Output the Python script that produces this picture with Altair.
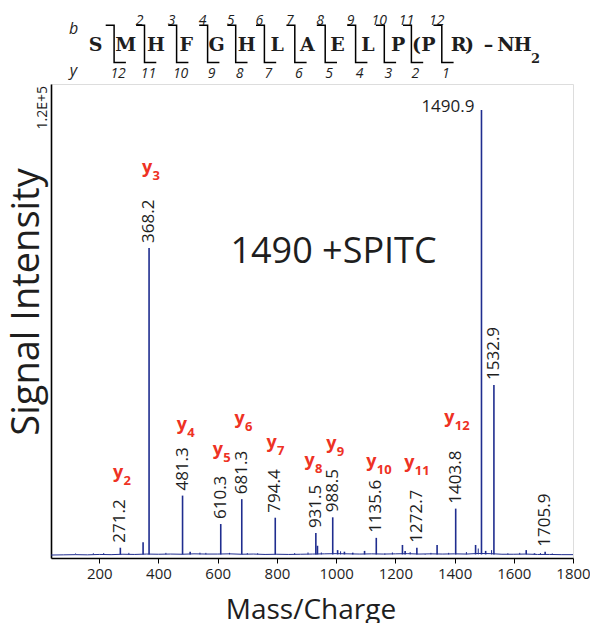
import altair as alt
import pandas as pd

# ---------------- values ----------------
# main spectral peaks (m/z, signal intensity)
peak_mz = [271.2, 348.0, 368.2, 481.3, 507.0, 610.3, 681.3, 794.4, 931.5, 937.0,
           988.5, 1005.0, 1028.0, 1056.0, 1096.0, 1135.6, 1164.0, 1224.0, 1233.0,
           1272.7, 1301.0, 1341.0, 1403.8, 1471.0, 1490.9, 1505.0, 1532.9, 1642.0,
           1670.0, 1705.9]
peak_int = [2600, 4000, 78500, 15800, 1600, 8600, 14900, 10200, 6300, 3100,
            10300, 2000, 1600, 1350, 1800, 5100, 1100, 3300, 1800,
            2600, 1000, 3300, 12500, 3300, 113400, 1800, 43800, 2000,
            1200, 1600]

# small noise spikes
grass_mz = [120, 180, 215, 300, 425, 540, 560, 640, 700, 735, 860, 905, 950, 1015,
            1190, 1250, 1320, 1380, 1440, 1480, 1525, 1580, 1620, 1690, 1730]
grass_int = [1150, 1200, 1250, 1300, 1300, 1350, 1300, 1300, 1250, 1200, 1250, 1400,
             1400, 1700, 1400, 1500, 1300, 1300, 1500, 2400, 2000, 1200, 1300, 1250, 1150]

# noise floor
base_mz = [37, 80, 120, 160, 200, 240, 280, 320, 360, 400, 440, 480, 520, 560, 600,
           640, 680, 720, 760, 800, 840, 880, 920, 960, 1000, 1040, 1080, 1120,
           1160, 1200, 1240, 1280, 1320, 1360, 1400, 1440, 1480, 1520, 1560, 1600,
           1640, 1680, 1720, 1760, 1800]
base_int = [750, 800, 850, 800, 900, 850, 950, 900, 1000, 950, 1000, 950, 1050, 1000,
            1000, 1050, 950, 1000, 900, 950, 900, 950, 1000, 1050, 1100, 1050, 1000,
            1050, 1000, 1050, 1100, 1000, 1050, 1000, 1050, 1000, 1150, 1100, 950,
            950, 1000, 900, 900, 850, 850]
BASELINE = 900

# numeric peak labels
label_mz = [271.2, 368.2, 481.3, 610.3, 681.3, 794.4, 931.5, 988.5, 1135.6,
            1272.7, 1403.8, 1532.9, 1705.9]
top_label_mz = 1490.9

# y-ion annotations (ion number, anchor m/z, anchor intensity)
ion_num = ["2", "3", "4", "5", "6", "7", "8", "9", "10", "11", "12"]
ion_mz = [246, 344, 462, 583, 657, 765, 893, 967, 1102, 1230, 1365]
ion_int = [20250, 97470, 32400, 26080, 33920, 27850, 23290, 27590, 23040, 22780, 34180]

# x-axis tick values
x_ticks = [200, 400, 600, 800, 1000, 1200, 1400, 1600, 1800]

# peptide sequence header
residues = ["S", "M", "H", "F", "G", "H", "L", "A", "E", "L", "P", "P", "R"]
b_numbers = ["2", "3", "4", "5", "6", "7", "8", "9", "10", "11", "12"]
y_numbers = ["12", "11", "10", "9", "8", "7", "6", "5", "4", "3", "2", "1"]

# ---------------- layout ----------------
PAD_L, PAD_T, PAD_R, PAD_B = 51, 84, 17, 65
W, H = 522, 474
BLUE = "#1f2d8f"
RED = "#ee3224"
INK = "#1e1e1e"
FONT = "Open Sans"
SEQ_FONT = "DejaVu Serif"

lookup = dict(zip(peak_mz, peak_int))

peaks = pd.DataFrame({"mz": peak_mz, "intensity": peak_int, "base": BASELINE})
grass = pd.DataFrame({"mz": grass_mz, "intensity": grass_int, "base": BASELINE})
base = pd.DataFrame({"mz": base_mz, "intensity": base_int})
labels = pd.DataFrame({"mz": label_mz, "intensity": [lookup[m] for m in label_mz],
                       "text": [f"{m:.1f}" for m in label_mz]})
top_label = pd.DataFrame({"mz": [top_label_mz], "intensity": [lookup[top_label_mz]],
                          "text": [f"{top_label_mz:.1f}"]})
ions = pd.DataFrame({"mz": ion_mz, "intensity": ion_int, "num": ion_num, "y": "y"})

x_enc = alt.X("mz:Q", scale=alt.Scale(domain=[37, 1800], nice=False, zero=False),
              axis=alt.Axis(values=x_ticks, format="d",
                            title=None, grid=False, labelFlush=False,
                            labelFont=FONT, labelFontSize=15, labelColor=INK,
                            labelPadding=3, tickSize=5, tickColor="black", tickWidth=1,
                            domainColor="black", domainWidth=1.6))
y_enc = alt.Y("intensity:Q", scale=alt.Scale(domain=[0, 120000], nice=False),
              axis=alt.Axis(title=None, grid=False, labels=False, ticks=False,
                            domainColor="black", domainWidth=1.6))

base_line = alt.Chart(base).mark_line(color=BLUE, strokeWidth=1).encode(x=x_enc, y=y_enc)
grass_rules = alt.Chart(grass).mark_rule(color=BLUE, strokeWidth=1).encode(
    x=x_enc, y=y_enc, y2="base:Q")
peak_rules = alt.Chart(peaks).mark_rule(color=BLUE, strokeWidth=1.6).encode(
    x=x_enc, y=y_enc, y2="base:Q")

peak_text = alt.Chart(labels).mark_text(
    angle=270, align="left", baseline="middle", dx=5, font=FONT, fontSize=17, color=INK
).encode(x=x_enc, y=y_enc, text="text:N")
top_text = alt.Chart(top_label).mark_text(
    align="right", baseline="alphabetic", dx=-7, dy=2, font=FONT, fontSize=17, color=INK
).encode(x=x_enc, y=y_enc, text="text:N")

ion_y = alt.Chart(ions).mark_text(
    align="left", baseline="alphabetic", font=FONT, fontSize=18, fontWeight="bold", color=RED
).encode(x=x_enc, y=y_enc, text="y:N")
ion_sub = alt.Chart(ions).mark_text(
    align="left", baseline="alphabetic", dx=10.5, dy=7, font=FONT, fontSize=13,
    fontWeight="bold", color=RED
).encode(x=x_enc, y=y_enc, text="num:N")

# ---------- annotation texts in pixel space ----------
def px(xa):
    return xa - PAD_L

def py(ya):
    return ya - PAD_T

title_in = alt.Chart(pd.DataFrame({"t": ["1490 +SPITC"]})).mark_text(
    align="center", baseline="alphabetic", font=FONT, fontSize=36, color=INK
).encode(x=alt.value(px(333.5)), y=alt.value(py(263)), text="t:N")

ytitle = alt.Chart(pd.DataFrame({"t": ["Signal Intensity"]})).mark_text(
    align="center", baseline="middle", angle=270, font=FONT, fontSize=38, color=INK
).encode(x=alt.value(px(28)), y=alt.value(py(302)), text="t:N")

xtitle = alt.Chart(pd.DataFrame({"t": ["Mass/Charge"]})).mark_text(
    align="center", baseline="alphabetic", font=FONT, fontSize=28, color=INK
).encode(x=alt.value(px(311)), y=alt.value(py(619)), text="t:N")

ymax_text = alt.Chart(pd.DataFrame({"t": ["1.2E+5"]})).mark_text(
    align="right", baseline="alphabetic", angle=270, font=FONT, fontSize=14, color=INK
).encode(x=alt.value(px(47)), y=alt.value(py(86)), text="t:N")

# ---------- sequence header ----------
letter_x = [95.5 + 30.26 * i for i in range(len(residues))]
bracket_x = [114.1, 144.5, 176.6, 207.6, 235.7, 264.4, 294.8, 325.2, 355.6, 384.3, 411.4, 441.8]
TOP_Y, BOT_Y, TOP_HOOK, BOT_HOOK = 25.3, 62.5, 8.4, 11.8

letters_df = pd.DataFrame({
    "x": [px(v) for v in letter_x] + [px(416.4), px(469.5), px(488.5), px(505.9), px(522.8)],
    "y": [py(50.7)] * (len(residues) + 5),
    "t": residues + ["(", ")", "–", "N", "H"],
})
sub2_df = pd.DataFrame({"x": [px(531)], "y": [py(63)], "t": ["2"]})
bnum_df = pd.DataFrame({"x": [px(b - 5) for b in bracket_x[1:]],
                        "y": [py(25)] * len(b_numbers), "t": b_numbers})
ynum_df = pd.DataFrame({"x": [px(b + 4) for b in bracket_x],
                        "y": [py(77.7)] * len(y_numbers), "t": y_numbers})
by_df = pd.DataFrame({"x": [px(73.5), px(73.5)], "y": [py(33.8), py(76)], "t": ["b", "y"]})

seg_rows = []
for i, bx in enumerate(bracket_x):
    pts = [(bx - TOP_HOOK, TOP_Y), (bx, TOP_Y), (bx, BOT_Y), (bx + BOT_HOOK, BOT_Y)]
    for k, (xa, ya) in enumerate(pts):
        seg_rows.append({"id": i, "o": k, "x": px(xa), "y": py(ya)})
seg_df = pd.DataFrame(seg_rows)

hx = alt.X("x:Q", scale=None, axis=None)
hy = alt.Y("y:Q", scale=None, axis=None)

brackets = alt.Chart(seg_df).mark_line(color="black", strokeWidth=1.5, strokeJoin="miter").encode(
    x=hx, y=hy, detail="id:N", order="o:Q")
letters = alt.Chart(letters_df).mark_text(
    align="center", baseline="alphabetic", font=SEQ_FONT, fontSize=19,
    fontWeight="bold", color=INK).encode(x=hx, y=hy, text="t:N")
sub2 = alt.Chart(sub2_df).mark_text(
    align="left", baseline="alphabetic", font=SEQ_FONT, fontSize=13,
    fontWeight="bold", color=INK).encode(x=hx, y=hy, text="t:N")
bnums = alt.Chart(bnum_df).mark_text(
    align="center", baseline="alphabetic", font=FONT, fontSize=14, fontStyle="italic",
    color=INK).encode(x=hx, y=hy, text="t:N")
ynums = alt.Chart(ynum_df).mark_text(
    align="center", baseline="alphabetic", font=FONT, fontSize=14, fontStyle="italic",
    color=INK).encode(x=hx, y=hy, text="t:N")
bylab = alt.Chart(by_df).mark_text(
    align="center", baseline="alphabetic", font=FONT, fontSize=16, fontStyle="italic",
    color=INK).encode(x=hx, y=hy, text="t:N")

chart = alt.layer(
    base_line, grass_rules, peak_rules, peak_text, top_text, ion_y, ion_sub,
    title_in, ytitle, xtitle, ymax_text,
    brackets, letters, sub2, bnums, ynums, bylab,
).properties(
    width=W, height=H,
    autosize=alt.AutoSizeParams(type="none"),
    padding={"left": PAD_L, "top": PAD_T, "right": PAD_R, "bottom": PAD_B},
).configure_view(stroke=None).configure(background="white")

chart.save("out.html", embed_options={"renderer": "svg", "actions": False})
